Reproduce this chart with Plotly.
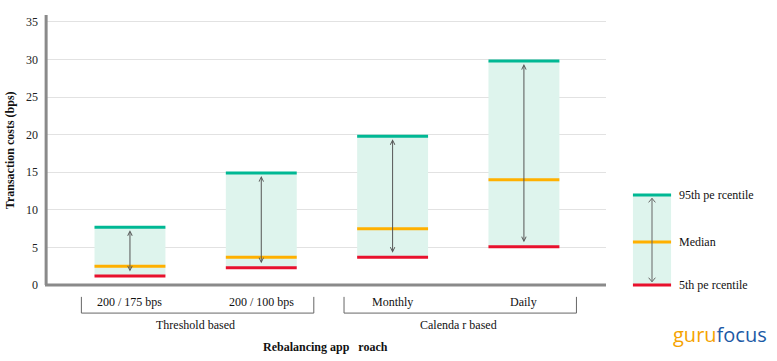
import plotly.graph_objects as go

categories = ["200 / 175 bps", "200 / 100 bps", "Monthly", "Daily"]
groups = ["Threshold based", "Calenda r based"]
group_members = [[0, 1], [2, 3]]
p95 = [7.7, 14.9, 19.8, 29.8]
median = [2.5, 3.7, 7.5, 14.0]
p5 = [1.2, 2.3, 3.7, 5.1]
y_ticks = [0, 5, 10, 15, 20, 25, 30, 35]

TEAL = "rgb(0,184,148)"
ORANGE = "rgb(255,176,0)"
RED = "rgb(232,17,45)"
FILL = "rgb(222,244,237)"
FONT = "Liberation Serif"

xs = list(range(len(categories)))
W = 0.54

fig = go.Figure()
fig.add_trace(go.Bar(x=xs, y=[a - b for a, b in zip(p95, p5)], base=p5, width=W,
                     marker=dict(color=FILL, line=dict(width=0)), hoverinfo="skip"))

def seg_trace(vals, color):
    X, Y = [], []
    for i, v in zip(xs, vals):
        X += [i - W / 2, i + W / 2, None]
        Y += [v, v, None]
    return go.Scatter(x=X, y=Y, mode="lines", line=dict(color=color, width=3), hoverinfo="skip")

fig.add_trace(seg_trace(p95, TEAL))
fig.add_trace(seg_trace(median, ORANGE))
fig.add_trace(seg_trace(p5, RED))

annotations = []
for i in xs:
    annotations.append(dict(x=i, y=p95[i], ax=i, ay=p5[i], xref="x", yref="y", axref="x", ayref="y",
                            text="", showarrow=True, arrowhead=5, startarrowhead=5, arrowside="end+start",
                            arrowsize=0.9, arrowwidth=1, arrowcolor="#555", standoff=3, startstandoff=3))
    annotations.append(dict(x=i, y=-0.063, xref="x", yref="paper", text=categories[i], showarrow=False,
                            font=dict(family=FONT, size=12, color="#111"), yanchor="middle"))

shapes = []
for g, mem in zip(groups, group_members):
    x0 = mem[0] - 0.37
    x1 = mem[-1] + 0.40
    shapes.append(dict(type="path", xref="x", yref="paper",
                       path=f"M {x0},-0.044 L {x0},-0.104 L {x1},-0.104 L {x1},-0.044",
                       line=dict(color="#666", width=1)))
    annotations.append(dict(x=(mem[0] + mem[-1]) / 2, y=-0.148, xref="x", yref="paper", text=g,
                            showarrow=False, font=dict(family=FONT, size=12, color="#111"), yanchor="middle"))

# axis titles
annotations.append(dict(x=0.5, y=-0.23, xref="paper", yref="paper", text="<b>Rebalancing app   roach</b>",
                        showarrow=False, font=dict(family=FONT, size=12, color="#111"), yanchor="middle"))
annotations.append(dict(x=-0.062, y=0.5, xref="paper", yref="paper", text="<b>Transaction costs (bps)</b>",
                        textangle=-90, showarrow=False, font=dict(family=FONT, size=12, color="#111"),
                        xanchor="center", yanchor="middle"))

# legend drawn manually
lx0, lx1, lxa, ltx = 1.048, 1.116, 1.082, 1.127
ly95, lymed, ly5 = 0.333, 0.159, 0.0
shapes.append(dict(type="rect", xref="paper", yref="paper", x0=lx0, x1=lx1, y0=ly5, y1=ly95,
                   fillcolor=FILL, line=dict(width=0), layer="below"))
for yy, c in [(ly95, TEAL), (lymed, ORANGE), (ly5, RED)]:
    shapes.append(dict(type="line", xref="paper", yref="paper", x0=lx0, x1=lx1, y0=yy, y1=yy,
                       line=dict(color=c, width=3)))
for yy, t in [(ly95, "95th pe rcentile"), (lymed, "Median"), (ly5, "5th pe rcentile")]:
    annotations.append(dict(x=ltx, y=yy, xref="paper", yref="paper", text=t, showarrow=False,
                            xanchor="left", yanchor="middle", font=dict(family=FONT, size=12, color="#111")))
shapes.append(dict(type="line", xref="paper", yref="paper", x0=lxa, x1=lxa, y0=ly5 + 0.012, y1=ly95 - 0.012,
                   line=dict(color="#666", width=1)))
for yy, d in [(ly95 - 0.012, -1), (ly5 + 0.012, 1)]:
    shapes.append(dict(type="path", xref="paper", yref="paper",
                       path=f"M {lxa-0.006},{yy + d*0.015} L {lxa},{yy} L {lxa+0.006},{yy + d*0.015}",
                       line=dict(color="#666", width=1)))

# logo
annotations.append(dict(x=1.203, y=-0.185, xref="paper", yref="paper",
                        text="<span style='color:#f5a300'>guru</span><span style='color:#1c5aa6'>focus</span>",
                        showarrow=False, font=dict(family="Open Sans", size=20), xanchor="center", yanchor="middle"))

fig.update_layout(
    width=777, height=361,
    margin=dict(l=45, r=171, t=15, b=76),
    paper_bgcolor="white", plot_bgcolor="white",
    showlegend=False,
    shapes=shapes, annotations=annotations,
    xaxis=dict(range=[-0.647, 3.625], showticklabels=False, showgrid=False, zeroline=False,
               showline=False, ticks=""),
    yaxis=dict(range=[0, 35.93], tickvals=y_ticks, showgrid=True, gridcolor="#e2e2e2", gridwidth=1,
               zeroline=False, showline=False, ticks="", ticklabelstandoff=6,
               tickfont=dict(family=FONT, size=12, color="#222")),
)
# axis lines
fig.add_shape(type="line", xref="paper", yref="paper", x0=0, x1=1, y0=0, y1=0, line=dict(color="#8a8a8a", width=3))
fig.add_shape(type="line", xref="paper", yref="paper", x0=0.002, x1=0.002, y0=0, y1=1, line=dict(color="#8a8a8a", width=3))

fig.write_html("out.html", config={"displayModeBar": False},
               post_script="document.body.style.margin='0';")
